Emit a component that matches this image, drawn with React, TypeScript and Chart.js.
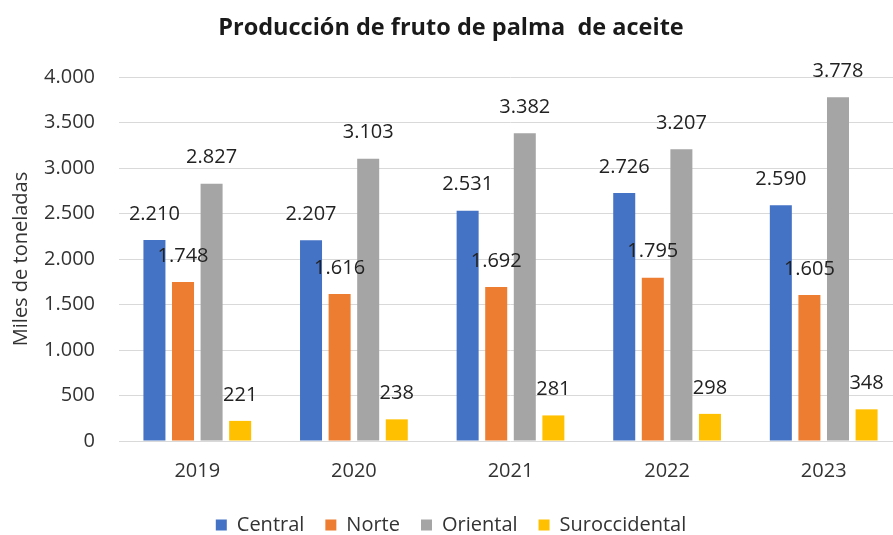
import React, { useEffect, useRef } from "react";
import { Chart, registerables } from "chart.js";

Chart.register(...registerables);

const categories = ["2019", "2020", "2021", "2022", "2023"];
const central = [2210, 2207, 2531, 2726, 2590];
const norte = [1748, 1616, 1692, 1795, 1605];
const oriental = [2827, 3103, 3382, 3207, 3778];
const suroccidental = [221, 238, 281, 298, 348];
const seriesNames = ["Central", "Norte", "Oriental", "Suroccidental"];
const seriesColors = ["#4472C4", "#ED7D31", "#A5A5A5", "#FFC000"];
const yMin = 0;
const yMax = 4000;
const yStep = 500;
const titleText = "Producción de fruto de palma  de aceite";
const yTitle = "Miles de toneladas";

const FONT = "'Open Sans', 'Liberation Sans', sans-serif";

const fmt = (v: number) => String(v).replace(/\B(?=(\d{3})+(?!\d))/g, ".");

const dataLabels = {
  id: "dataLabels",
  afterDatasetsDraw(chart: any) {
    const ctx = chart.ctx;
    ctx.save();
    ctx.font = `20px ${FONT}`;
    ctx.fillStyle = "#222222";
    ctx.textAlign = "center";
    ctx.textBaseline = "middle";
    chart.data.datasets.forEach((ds: any, i: number) => {
      const meta = chart.getDatasetMeta(i);
      meta.data.forEach((bar: any, j: number) => {
        ctx.fillText(fmt(ds.data[j]), bar.x, bar.y - 26);
      });
    });
    ctx.restore();
  },
};

export default function App() {
  const ref = useRef<HTMLCanvasElement>(null);

  useEffect(() => {
    const allSeries = [central, norte, oriental, suroccidental];
    const chart = new Chart(ref.current as HTMLCanvasElement, {
      type: "bar",
      data: {
        labels: categories,
        datasets: allSeries.map((d, i) => ({
          label: seriesNames[i],
          data: d,
          backgroundColor: seriesColors[i],
          borderWidth: 0,
          categoryPercentage: 0.73,
          barPercentage: 0.77,
        })),
      },
      options: {
        responsive: false,
        animation: false,
        layout: { padding: { left: 0, right: 4, top: 0, bottom: -10 } },
        plugins: {
          title: {
            display: true,
            text: titleText,
            color: "#1a1a1a",
            font: { family: FONT, size: 23.5, weight: "bold" },
            padding: { top: 14, bottom: 34.8 },
          },
          legend: {
            position: "bottom",
            labels: {
              boxWidth: 11,
              boxHeight: 11,
              padding: 21,
              color: "#333333",
              font: { family: FONT, size: 20 },
            },
          },
          tooltip: { enabled: false },
        },
        scales: {
          x: {
            grid: { display: false, drawTicks: false },
            border: { display: false },
            ticks: { color: "#333333", font: { family: FONT, size: 20 }, padding: 18 },
            afterFit: (s: any) => {
              s.height = 53;
            },
          },
          y: {
            min: yMin,
            max: yMax,
            grid: { color: "#D9D9D9", lineWidth: 1, drawTicks: false },
            border: { display: false },
            ticks: {
              stepSize: yStep,
              color: "#333333",
              font: { family: FONT, size: 20 },
              padding: 24,
              callback: (v: any) => fmt(Number(v)),
            },
            title: {
              display: true,
              text: yTitle,
              color: "#333333",
              font: { family: FONT, size: 20 },
              padding: { top: 9, bottom: 0 },
            },
            afterFit: (s: any) => {
              s.width = 119;
            },
          },
        },
      },
      plugins: [dataLabels],
    } as any);
    return () => chart.destroy();
  }, []);

  return (
    <div
      style={{
        position: "fixed",
        left: 0,
        top: 0,
        width: 893,
        height: 535,
        overflow: "hidden",
        background: "#ffffff",
      }}
    >
      <canvas ref={ref} width={906} height={535} style={{ display: "block" }} />
    </div>
  );
}
